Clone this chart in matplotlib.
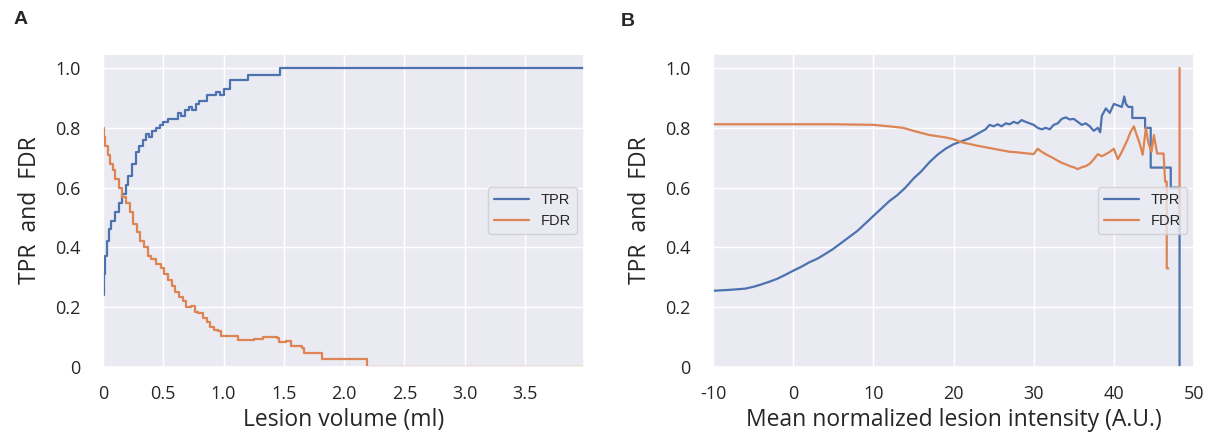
import numpy as np
import matplotlib
matplotlib.use("Agg")
import matplotlib.pyplot as plt
import seaborn as sns

# ---------------- data ----------------
# Panel A: TPR / FDR vs lesion volume (ml)
vol_tpr_x = [0, 0.005, 0.015, 0.03, 0.05, 0.07, 0.1, 0.13, 0.16, 0.19, 0.21, 0.24, 0.27,
             0.3, 0.33, 0.36, 0.38, 0.41, 0.44, 0.47, 0.5, 0.54, 0.58, 0.62, 0.65, 0.68,
             0.71, 0.74, 0.77, 0.8, 0.83, 0.86, 0.9, 0.94, 0.97, 1.0, 1.05, 1.2, 1.47, 3.99]
vol_tpr = [0.24, 0.31, 0.37, 0.42, 0.46, 0.49, 0.52, 0.55, 0.58, 0.61, 0.64, 0.68, 0.72,
           0.74, 0.76, 0.78, 0.77, 0.79, 0.80, 0.81, 0.82, 0.83, 0.83, 0.85, 0.84, 0.86,
           0.87, 0.86, 0.88, 0.89, 0.89, 0.91, 0.91, 0.92, 0.91, 0.93, 0.96, 0.978, 1.0, 1.0]

vol_fdr_x = [0, 0.01, 0.02, 0.04, 0.06, 0.08, 0.1, 0.13, 0.16, 0.19, 0.22, 0.25, 0.28,
             0.31, 0.34, 0.37, 0.4, 0.44, 0.48, 0.51, 0.54, 0.57, 0.6, 0.63, 0.66, 0.69,
             0.73, 0.76, 0.79, 0.83, 0.86, 0.89, 0.92, 0.95, 0.98, 1.05, 1.12, 1.25, 1.33,
             1.44, 1.46, 1.52, 1.56, 1.65, 1.67, 1.82, 2.19, 3.99]
vol_fdr = [0.80, 0.77, 0.74, 0.71, 0.68, 0.66, 0.63, 0.60, 0.57, 0.55, 0.52, 0.48, 0.45,
           0.42, 0.40, 0.37, 0.36, 0.345, 0.33, 0.31, 0.29, 0.27, 0.25, 0.235, 0.22, 0.20,
           0.205, 0.185, 0.18, 0.165, 0.15, 0.135, 0.125, 0.12, 0.105, 0.105, 0.09, 0.095,
           0.10, 0.098, 0.082, 0.088, 0.07, 0.065, 0.048, 0.026, 0.0, 0.0]

# Panel B: TPR / FDR vs mean normalized lesion intensity (A.U.)
int_tpr_x = [-10, -8, -6, -5, -4, -3, -2, -1, 0, 1, 2, 3, 4, 5, 6, 7, 8, 9, 10, 11, 12,
             13, 14, 15, 16, 17, 18, 19, 20, 21, 22, 23, 24, 24.5, 25, 25.5, 26, 26.5, 27,
             27.5, 28, 28.5, 29, 29.5, 30, 30.5, 31, 31.5, 32, 32.5, 33, 33.5, 34, 34.5,
             35, 35.5, 36, 36.5, 37, 37.5, 38, 38.3, 38.5, 39, 39.5, 40, 40.5, 41, 41.3,
             41.5, 41.8, 42.3, 42.3, 43.9, 43.9, 44.6, 44.6, 47.1, 47.1, 48.2, 48.2]
int_tpr = [0.255, 0.258, 0.262, 0.268, 0.276, 0.285, 0.295, 0.308, 0.322, 0.335, 0.35,
           0.362, 0.378, 0.395, 0.415, 0.435, 0.455, 0.48, 0.505, 0.53, 0.555, 0.575,
           0.60, 0.63, 0.655, 0.685, 0.71, 0.73, 0.745, 0.755, 0.765, 0.78, 0.795, 0.81,
           0.805, 0.812, 0.805, 0.815, 0.812, 0.82, 0.815, 0.826, 0.82, 0.815, 0.81, 0.80,
           0.795, 0.80, 0.795, 0.81, 0.815, 0.83, 0.835, 0.828, 0.83, 0.82, 0.81, 0.815,
           0.805, 0.79, 0.80, 0.785, 0.84, 0.865, 0.85, 0.88, 0.875, 0.87, 0.905, 0.88,
           0.87, 0.87, 0.833, 0.833, 0.80, 0.80, 0.667, 0.667, 0.60, 0.60, 0.0]

int_fdr_x = [-10, 0, 5, 10, 12, 13.7, 15, 16, 17, 18, 19, 20, 21, 22, 23, 24, 25, 26, 27,
             28, 29, 30, 30.5, 31, 31.5, 32, 32.5, 33, 33.5, 34, 34.5, 35, 35.5, 36, 36.5,
             37, 37.5, 38, 38.5, 39, 39.5, 40, 40.5, 41, 41.3, 41.7, 42.1, 42.5, 42.8,
             43.2, 43.6, 44.0, 44.3, 44.7, 45.0, 45.4, 46.2, 46.4, 46.6, 46.6, 46.8, 46.9,
             48.2, 48.2]
int_fdr = [0.812, 0.812, 0.812, 0.81, 0.805, 0.80, 0.79, 0.783, 0.776, 0.772, 0.768,
           0.762, 0.752, 0.746, 0.74, 0.735, 0.73, 0.725, 0.72, 0.718, 0.715, 0.712,
           0.73, 0.72, 0.712, 0.705, 0.698, 0.69, 0.683, 0.678, 0.672, 0.668, 0.662,
           0.668, 0.672, 0.68, 0.695, 0.712, 0.705, 0.712, 0.72, 0.73, 0.695, 0.72, 0.737,
           0.76, 0.787, 0.805, 0.78, 0.75, 0.71, 0.80, 0.75, 0.72, 0.776, 0.714, 0.714,
           0.62, 0.62, 0.33, 0.33, np.nan, 1.0, 0.5]

vol_ticks = [0, 0.5, 1.0, 1.5, 2.0, 2.5, 3.0, 3.5]
vol_ticklabels = ["0", "0.5", "1.0", "1.5", "2.0", "2.5", "3.0", "3.5"]
int_ticks = [-10, 0, 10, 20, 30, 40, 50]
int_ticklabels = ["-10", "0", "10", "20", "30", "40", "50"]
y_ticks = [0, 0.2, 0.4, 0.6, 0.8, 1.0]
y_ticklabels = ["0", "0.2", "0.4", "0.6", "0.8", "1.0"]

# ---------------- style ----------------
sns.set_theme(style="darkgrid")
plt.rcParams['font.family'] = ['Open Sans', 'DejaVu Sans']
blue, orange = sns.color_palette("deep")[0], sns.color_palette("deep")[1]

W, H = 1206, 432
fig = plt.figure(figsize=(W / 100, H / 100), dpi=100)

def px_axes(x0, y0, x1, y1):
    return fig.add_axes([x0 / W, 1 - y1 / H, (x1 - x0) / W, (y1 - y0) / H])

axA = px_axes(103, 54, 584, 367)
axB = px_axes(713, 54, 1194, 367)

axA.plot(vol_tpr_x, vol_tpr, color=blue, lw=1.6, drawstyle="steps-post", label="TPR")
axA.plot(vol_fdr_x, vol_fdr, color=orange, lw=1.6, drawstyle="steps-post", label="FDR")
axA.set_xlim(0, 3.99)
axA.set_xticks(vol_ticks)
axA.set_xticklabels(vol_ticklabels)
axA.set_xlabel("Lesion volume (ml)")

axB.plot(int_tpr_x, int_tpr, color=blue, lw=1.6, label="TPR")
axB.plot(int_fdr_x, int_fdr, color=orange, lw=1.6, label="FDR")
axB.set_xlim(-10, 50)
axB.set_xticks(int_ticks)
axB.set_xticklabels(int_ticklabels)
axB.set_xlabel("Mean normalized lesion intensity (A.U.)")

for ax in (axA, axB):
    ax.set_ylim(0, 1.047)
    ax.set_yticks(y_ticks)
    ax.set_yticklabels(y_ticklabels)
    ax.tick_params(axis="both", labelsize=13, colors="#262626")
    ax.tick_params(axis="y", pad=10)
    ax.tick_params(axis="x", pad=7)
    ax.set_ylabel("TPR  and  FDR", fontsize=16.5)
    ax.yaxis.set_label_coords(-0.127, 0.5)
    ax.xaxis.label.set_size(16.5)
    ax.xaxis.set_label_coords(0.5, -0.13)
    ax.legend(loc="center right", handlelength=2.4,
              prop={"family": ["Liberation Sans", "DejaVu Sans"], "size": 10.5})

fig.text(21 / W, 1 - 19 / H, "A", fontsize=14, fontweight="bold",
         family=["Liberation Sans", "DejaVu Sans"], ha="center", va="center")
fig.text(628 / W, 1 - 21 / H, "B", fontsize=14, fontweight="bold",
         family=["Liberation Sans", "DejaVu Sans"], ha="center", va="center")

fig.savefig("out.png", dpi=100)
